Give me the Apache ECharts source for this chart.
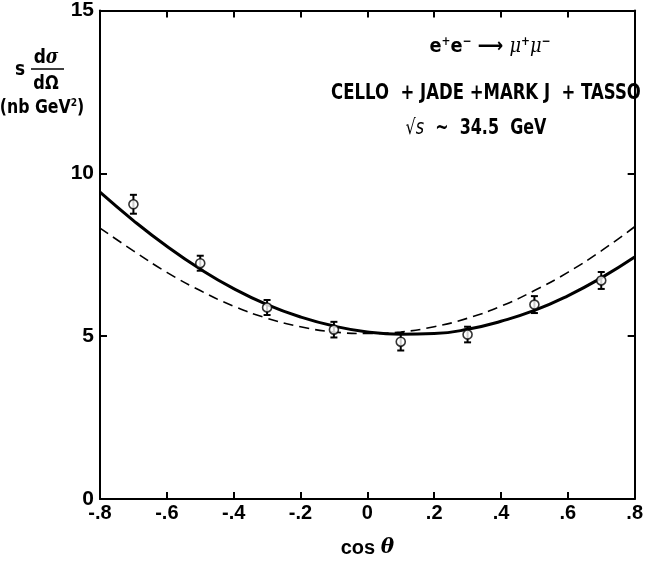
<!DOCTYPE html>
<html><head><meta charset="utf-8">
<script src="https://cdn.jsdelivr.net/npm/echarts@6/dist/echarts.min.js"></script>
<style>html,body{margin:0;padding:0;background:#fff}#c{width:646px;height:563px}</style>
</head><body><div id="c"></div>
<script>
// data
var pointX = [-0.7, -0.5, -0.3, -0.1, 0.1, 0.3, 0.5, 0.7];
var pointY = [9.05, 7.24, 5.88, 5.20, 4.83, 5.05, 5.97, 6.71];
var pointErr = [0.29, 0.23, 0.23, 0.24, 0.27, 0.24, 0.26, 0.26];
var curveX = [-0.8,-0.7,-0.6,-0.5,-0.4,-0.3,-0.2,-0.1,0,0.1,0.2,0.3,0.4,0.5,0.6,0.7,0.8];
var solidY = [9.42,8.55,7.76,7.06,6.46,5.97,5.59,5.31,5.13,5.06,5.08,5.21,5.46,5.79,6.24,6.79,7.43];
var dashedY = [8.32,7.62,6.96,6.40,5.92,5.55,5.29,5.13,5.08,5.13,5.29,5.55,5.92,6.40,6.96,7.62,8.36];
var xTicks = [-0.8,-0.6,-0.4,-0.2,0,0.2,0.4,0.6,0.8];
var yTicks = [0,5,10,15];

var FAM = '"DejaVu Sans", sans-serif';
var LFAM = '"Liberation Sans", Arial, sans-serif';
var chart = echarts.init(document.getElementById('c'), null, {renderer:'canvas'});

function xl(v){ if (Math.abs(v) < 1e-9) return '0'; var s = v.toFixed(1); return s.replace('0.', '.'); }

var axisLine = {show:true, onZero:false, lineStyle:{color:'#000', width:2}};
var tick = {inside:true, length:7, lineStyle:{color:'#000', width:2}};
var option = {
  animation:false,
  backgroundColor:'#fff',
  grid:{left:100, right:5, top:8, bottom:58, containLabel:false},
  xAxis:[
    {type:'value', min:-0.8, max:0.8, interval:0.2, position:'bottom',
     axisLine:axisLine, axisTick:tick, splitLine:{show:false},
     axisLabel:{formatter:xl, color:'#000', fontFamily:LFAM, fontWeight:'bold', fontSize:20, margin:4},
     name:'cos {i|θ}', nameLocation:'middle', nameGap:39,
     nameTextStyle:{color:'#000', fontFamily:LFAM, fontWeight:'bold', fontSize:20,
       rich:{i:{fontStyle:'italic', fontFamily:'"DejaVu Serif",serif', fontSize:20, fontWeight:'bold'}}}},
    {type:'value', min:-0.8, max:0.8, interval:0.2, position:'top',
     axisLine:axisLine, axisTick:tick, splitLine:{show:false}, axisLabel:{show:false}}
  ],
  yAxis:[
    {type:'value', min:0, max:15, interval:5, position:'left',
     axisLine:axisLine, axisTick:tick, splitLine:{show:false},
     axisLabel:{color:'#000', fontFamily:LFAM, fontWeight:'bold', fontSize:21, margin:6}},
    {type:'value', min:0, max:15, interval:5, position:'right',
     axisLine:axisLine, axisTick:tick, splitLine:{show:false}, axisLabel:{show:false}}
  ],
  series:[
    {type:'line', smooth:true, symbol:'none', data:curveX.map(function(x,i){return [x,dashedY[i]];}),
     lineStyle:{color:'#000', width:1.6, type:[10,6]}, z:2},
    {type:'line', smooth:true, symbol:'none', data:curveX.map(function(x,i){return [x,solidY[i]];}),
     lineStyle:{color:'#000', width:3}, z:3},
    {type:'custom', z:4,
     data:pointX.map(function(x,i){return [x, pointY[i]-pointErr[i], pointY[i]+pointErr[i]];}),
     renderItem:function(params, api){
       var lo = api.coord([api.value(0), api.value(1)]);
       var hi = api.coord([api.value(0), api.value(2)]);
       var w = 3.5;
       var st = {stroke:'#000', lineWidth:2};
       return {type:'group', children:[
         {type:'line', shape:{x1:lo[0],y1:lo[1],x2:hi[0],y2:hi[1]}, style:st},
         {type:'line', shape:{x1:lo[0]-w,y1:lo[1],x2:lo[0]+w,y2:lo[1]}, style:st},
         {type:'line', shape:{x1:hi[0]-w,y1:hi[1],x2:hi[0]+w,y2:hi[1]}, style:st}
       ]};
     }},
    {type:'scatter', z:5, symbol:'circle', symbolSize:9,
     data:pointX.map(function(x,i){return [x,pointY[i]];}),
     itemStyle:{color:'#fff', borderColor:'#000', borderWidth:1.6}}
  ],
  graphic:[
    {type:'text', x:20, y:70, scaleX:0.85, style:{text:'s', font:'bold 20px '+FAM, fill:'#000', textAlign:'center', textVerticalAlign:'middle'}},
    {type:'text', x:46, y:58, scaleX:0.85, style:{text:'d{i|σ}', rich:{i:{fontStyle:'italic', fontFamily:'"DejaVu Serif",serif', fontSize:20, fontWeight:'bold'}}, font:'bold 20px '+FAM, fill:'#000', textAlign:'center', textVerticalAlign:'middle'}},
    {type:'line', shape:{x1:31, y1:69, x2:64, y2:69}, style:{stroke:'#000', lineWidth:1.5}},
    {type:'text', x:46, y:84, scaleX:0.85, style:{text:'dΩ', font:'bold 19px '+FAM, fill:'#000', textAlign:'center', textVerticalAlign:'middle'}},
    {type:'text', x:42, y:108, scaleX:0.83, style:{text:'(nb GeV{s|2})', rich:{s:{fontSize:11, fontFamily:FAM, fontWeight:'bold', padding:[0,0,9,0]}}, font:'bold 19px '+FAM, fill:'#000', textAlign:'center', textVerticalAlign:'middle'}},
    {type:'text', x:490, y:47, scaleX:0.89, style:{text:'e{s|+}e{s|−} ⟶ {i|μ}{s|+}{i|μ}{s|−}', rich:{s:{fontSize:12, fontFamily:FAM, fontWeight:'bold', padding:[0,0,10,0]}, i:{fontStyle:'italic', fontFamily:'"DejaVu Serif",serif', fontSize:20}}, font:'bold 20px '+FAM, fill:'#000', textAlign:'center', textVerticalAlign:'middle'}},
    {type:'text', x:486, y:93, scaleX:0.75, style:{text:'CELLO  + JADE +MARK J  + TASSO', font:'bold 22px '+FAM, fill:'#000', textAlign:'center', textVerticalAlign:'middle'}},
    {type:'text', x:476, y:129, scaleX:0.76, style:{text:'{i|√s}  ~  34.5  GeV', rich:{i:{fontStyle:'italic', fontFamily:FAM, fontSize:21}}, font:'bold 21px '+FAM, fill:'#000', textAlign:'center', textVerticalAlign:'middle'}}
  ]
};
chart.setOption(option);
</script></body></html>
